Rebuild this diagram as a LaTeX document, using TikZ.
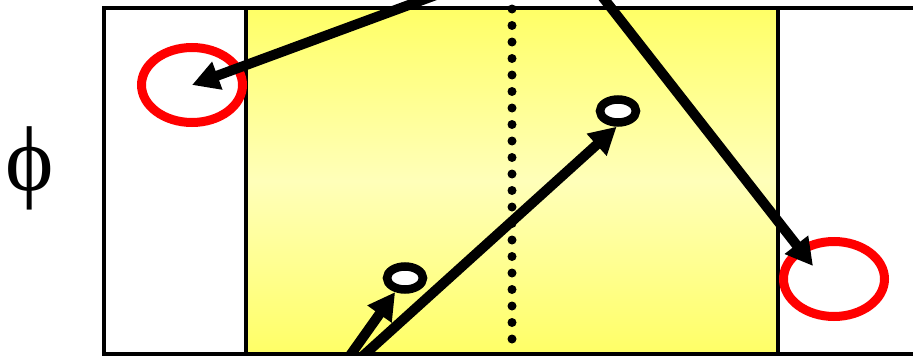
\documentclass[tikz,border=0pt]{standalone}
\usepackage{fontspec}
\newfontfamily\phifont{Liberation Serif}
\usetikzlibrary{arrows.meta,shapes.geometric}
\definecolor{bandedge}{RGB}{255,255,102}
\definecolor{bandmid}{RGB}{255,255,185}
\begin{document}
\begin{tikzpicture}[x=1pt,y=-1pt,
  frame/.style={draw=black,line width=4pt},
  redring/.style={ellipse,draw=red,line width=9pt,minimum width=101pt,minimum height=75pt,inner sep=0pt},
  blackring/.style={ellipse,draw=black,line width=8.5pt,fill=white,minimum width=36pt,minimum height=23pt,inner sep=0pt},
  bigarrow/.style={line width=10pt,-{Triangle[length=27pt,width=28pt]}},
  dotline/.style={line width=9pt,line cap=round,dash pattern=on 0pt off 16.5pt}]
\useasboundingbox (0,0) rectangle (913,356);
% yellow band
\shade[top color=bandedge, bottom color=bandedge, middle color=bandmid] (246,8) rectangle (778,354);
% frames
\draw[frame] (950,8) -- (104,8) -- (104,354) -- (950,354);
\draw[frame] (246,8) -- (246,354);
\draw[frame] (778,8) -- (778,354);
% dotted centre line
\draw[dotline] (512,9) -- (512,354);
% rings
\node[redring] (r1) at (192,85) {};
\node[redring] (r2) at (834,279) {};
\node[blackring] (b1) at (405,278) {};
\node[blackring] (b2) at (618,111) {};
% free ends
\coordinate (s1) at (436,-5);
\coordinate (s2) at (601,-5);
\coordinate (s3) at (344,364);
\coordinate (s4) at (354,364);
\coordinate (t2) at (813,266);
% arrows
\draw[bigarrow] (s1) -- (r1.center);
\draw[bigarrow] (s2) -- (t2);
\draw[bigarrow] (s3) -- (b1.-125);
\draw[bigarrow] (s4) -- (b2.-95);
% label
\node (phi) at (30,168) {\phifont\fontsize{92}{92}\selectfont ϕ};
\end{tikzpicture}
\end{document}
